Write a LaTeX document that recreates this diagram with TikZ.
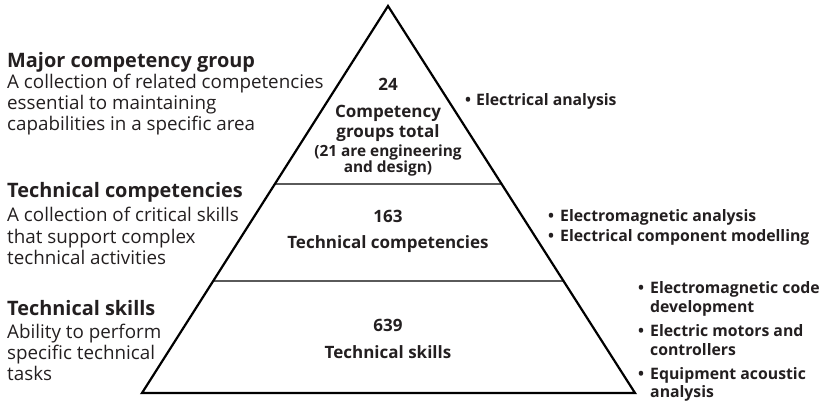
\documentclass[tikz,border=0pt]{standalone}
\usepackage{fontspec}
\setmainfont{Open Sans}
\usetikzlibrary{calc}
\definecolor{ink}{HTML}{231F20}
\definecolor{rulegray}{HTML}{5A5A5A}
\begin{document}
\begin{tikzpicture}[x=1pt,y=-1pt,
  head/.style={anchor=base west,inner sep=0pt,text=ink,font=\fontsize{19.9}{22}\selectfont\bfseries},
  body/.style={anchor=base west,inner sep=0pt,text=ink,font=\fontsize{18.8}{21}\selectfont},
  ctr/.style={anchor=base,inner sep=0pt,text=ink,font=\fontsize{17}{20}\selectfont\bfseries},
  ctrsmall/.style={anchor=base,inner sep=0pt,text=ink,font=\fontsize{15.4}{17}\selectfont\bfseries},
  bul/.style={anchor=base west,inner sep=0pt,text=ink,font=\fontsize{15.8}{20}\selectfont\bfseries},
  outline/.style={draw=black,line width=2.2pt,line join=miter},
  divider/.style={draw=rulegray,line width=1.4pt}
]
\useasboundingbox (0,0) rectangle (827,402);
% pyramid
\coordinate (apex) at (388,6);
\coordinate (bl) at (142,393);
\coordinate (br) at (635,393);
\coordinate (d1l) at ($(apex)!0.46!(bl)$);
\coordinate (d1r) at ($(apex)!0.46!(br)$);
\coordinate (d2l) at ($(apex)!0.7106!(bl)$);
\coordinate (d2r) at ($(apex)!0.7106!(br)$);
\draw[divider] (d1l) -- (d1r);
\draw[divider] (d2l) -- (d2r);
\draw[outline] (apex) -- (bl) -- (br) -- cycle;
% left column
\node[head] (h1) at (7,67.5) {Major competency group};
\node[body] (h1a) at (7,88.5) {A collection of related competencies};
\node[body] (h1b) at (7,109.5) {essential to maintaining};
\node[body] (h1c) at (7,130.5) {capabilities in a specific area};
\node[head] (h2) at (7,197) {Technical competencies};
\node[body] (h2a) at (7,221.5) {A collection of critical skills};
\node[body] (h2b) at (7,243) {that support complex};
\node[body] (h2c) at (7,264.5) {technical activities};
\node[head] (h3) at (7,315) {Technical skills};
\node[body] (h3a) at (7,338) {Ability to perform};
\node[body] (h3b) at (7,359) {specific technical};
\node[body] (h3c) at (7,380) {tasks};
% centre texts
\node[ctr] (c1) at (388,90) {24};
\node[ctr] (c1a) at (388,117) {Competency};
\node[ctr] (c1b) at (388,137.5) {groups total};
\node[ctrsmall] (c1c) at (388,156) {(21 are engineering};
\node[ctrsmall] (c1d) at (388,172.5) {and design)};
\node[ctr] (c2) at (388,222.5) {163};
\node[ctr] (c2a) at (388,248.5) {Technical competencies};
\node[ctr] (c3) at (388,331) {639};
\node[ctr] (c3a) at (388,358.5) {Technical skills};
% right examples
\node[bul] (r1) at (465,105.7) {•};
\node[bul] (r1t) at (476,105.7) {Electrical analysis};
\node[bul] (r2) at (548,221.7) {•};
\node[bul] (r2t) at (560,221.7) {Electromagnetic analysis};
\node[bul] (r3) at (548,241.7) {•};
\node[bul] (r3t) at (560,241.7) {Electrical component modelling};
\node[bul] (r4) at (638,293) {•};
\node[bul] (r4t) at (650,293) {Electromagnetic code};
\node[bul] (r4u) at (650,312) {development};
\node[bul] (r5) at (638,336) {•};
\node[bul] (r5t) at (650,336) {Electric motors and};
\node[bul] (r5u) at (650,355) {controllers};
\node[bul] (r6) at (638,379) {•};
\node[bul] (r6t) at (650,379) {Equipment acoustic};
\node[bul] (r6u) at (650,397) {analysis};
\end{tikzpicture}
\end{document}
